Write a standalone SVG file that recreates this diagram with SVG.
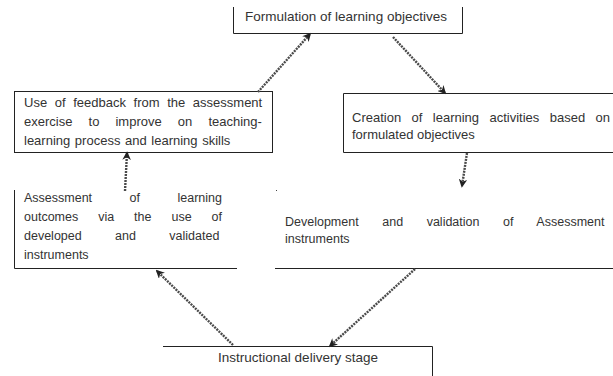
<svg xmlns="http://www.w3.org/2000/svg" width="613" height="376" viewBox="0 0 613 376">
<defs>
<style>
.box{fill:none;stroke:#222;stroke-width:1}
.t{font-family:"Liberation Sans",Arial,sans-serif;font-size:13px;fill:#333}
.s{font-size:12.5px}
.h{font-size:13.5px}
.c{fill:none;stroke:#4a4a4a;stroke-width:2.4;stroke-dasharray:2 1}
</style>
<marker id="ah" viewBox="0 0 10 10" refX="8" refY="5" markerWidth="3.6" markerHeight="3.6" orient="auto" markerUnits="strokeWidth">
<path d="M0,0 L10,5 L0,10 L3,5 Z" fill="#222"/>
</marker>
</defs>
<rect width="613" height="376" fill="#fff"/>
<g id="n-formulation">
<path class="box" d="M233.5,7 V33.5 H462.5 V7"/>
<text class="t h" x="346" y="21" text-anchor="middle">Formulation of learning objectives</text>
</g>
<g id="n-feedback">
<rect class="box" x="14.5" y="91.5" width="258" height="61"/>
<text class="t" x="24" y="107" word-spacing="4">Use of feedback from the assessment</text>
<text class="t" x="24" y="126" word-spacing="12.5">exercise to improve on teaching-</text>
<text class="t" x="24" y="145" word-spacing="1">learning process and learning skills</text>
</g>
<g id="n-creation">
<path class="box" d="M614,93.5 H343.5 V152.5 H614"/>
<text class="t" x="352" y="122" word-spacing="6.8">Creation of learning activities based on</text>
<text class="t" x="352" y="139">formulated objectives</text>
</g>
<g id="n-assessment">
<path class="box" d="M14.5,190 V268.5 H237"/>
<text class="t s" x="24" y="202" word-spacing="34">Assessment of learning</text>
<text class="t s" x="24" y="221" word-spacing="16.5">outcomes via the use of</text>
<text class="t s" x="24" y="240" word-spacing="29.9">developed and validated</text>
<text class="t s" x="24" y="259">instruments</text>
</g>
<g id="n-development">
<rect x="276" y="190" width="1" height="1" fill="#444"/>
<path class="box" d="M275,268.5 H614"/>
<text class="t s" x="285" y="226" word-spacing="20.1">Development and validation of Assessment</text>
<text class="t s" x="285" y="243">instruments</text>
</g>
<g id="n-delivery">
<path class="box" d="M163,346.5 H432.5 V377"/>
<text class="t h" x="298" y="362" text-anchor="middle">Instructional delivery stage</text>
</g>
<g id="connectors">
<line class="c" x1="258" y1="92" x2="310" y2="34" marker-end="url(#ah)"/>
<line class="c" x1="393" y1="37" x2="445" y2="93" marker-end="url(#ah)"/>
<line class="c" x1="467" y1="153" x2="462" y2="186" marker-end="url(#ah)"/>
<line class="c" x1="125" y1="191" x2="127" y2="153" marker-end="url(#ah)"/>
<line class="c" x1="233" y1="345" x2="157" y2="271" marker-end="url(#ah)"/>
<line class="c" x1="415" y1="269" x2="330" y2="346" marker-end="url(#ah)"/>
</g>
</svg>
